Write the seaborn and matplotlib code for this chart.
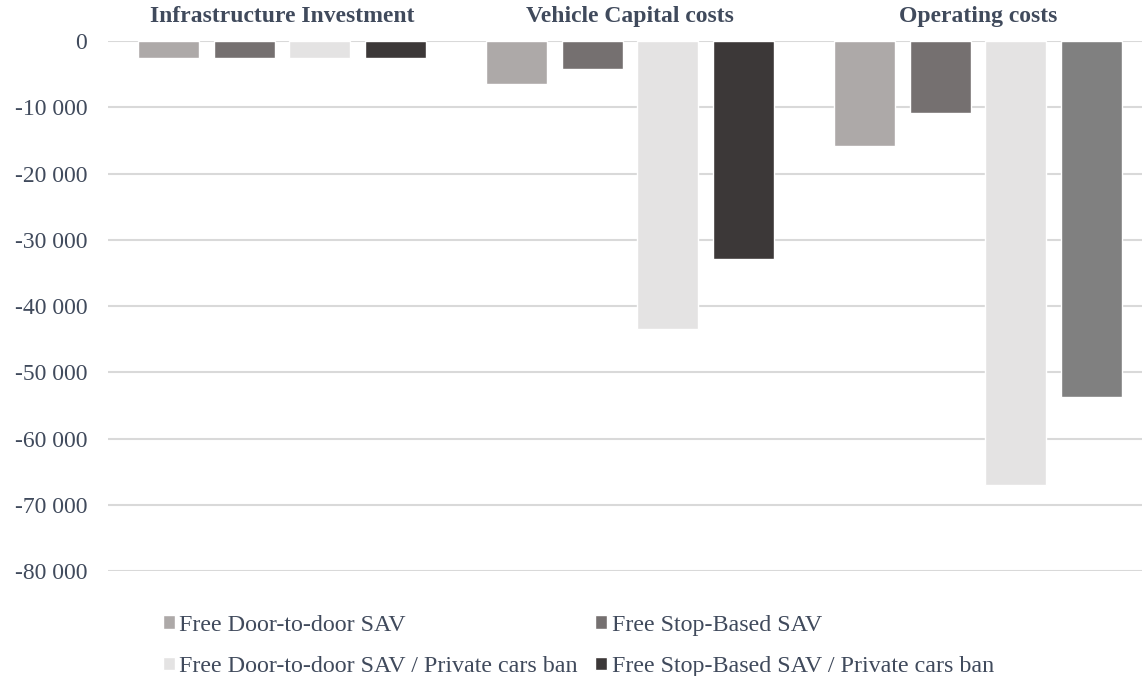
import pandas as pd
import numpy as np
import matplotlib
matplotlib.use("Agg")
import matplotlib.pyplot as plt
import seaborn as sns
from matplotlib.ticker import FuncFormatter

# data
categories = ["Infrastructure Investment", "Vehicle Capital costs", "Operating costs"]
series = [
    "Free Door-to-door SAV",
    "Free Stop-Based SAV",
    "Free Door-to-door SAV / Private cars ban",
    "Free Stop-Based SAV / Private cars ban",
]
door_to_door = [-2600, -6500, -15900]
stop_based = [-2600, -4200, -10800]
door_to_door_ban = [-2600, -43500, -67000]
stop_based_ban = [-2600, -32900, -53700]

colors = ["#ADA9A8", "#757070", "#E4E3E3", "#3C3838"]
odd_color = "#808080"  # last bar of "Operating costs" is drawn in a lighter grey
text_color = "#404A5C"

df = pd.DataFrame({
    "category": categories * 4,
    "series": np.repeat(series, 3),
    "value": door_to_door + stop_based + door_to_door_ban + stop_based_ban,
})

sns.set_style("white")
plt.rcParams["font.family"] = ["Liberation Serif", "DejaVu Serif"]

fig = plt.figure(figsize=(11.42, 6.76), dpi=100)
ax = fig.add_axes([108 / 1142, 105 / 676, 1044 / 1142, 530 / 676])

sns.barplot(data=df, x="category", y="value", hue="series", order=categories,
            hue_order=series, palette=colors, width=0.868, gap=0.19,
            saturation=1, ax=ax, legend=True)

# recolour the odd bar (series 4, category 3)
bars = [p for p in ax.patches if p.get_height() != 0]
bars = sorted(bars, key=lambda p: p.get_x())
bars[-1].set_facecolor(odd_color)

ax.set_ylim(-80000, 0)
ax.set_yticks(np.arange(-80000, 1, 10000))
ax.yaxis.set_major_formatter(FuncFormatter(lambda v, _: f"{int(v):,}".replace(",", " ")))
ax.grid(axis="y", color="#D9D9D9", linewidth=1.5)
ax.set_axisbelow(True)
for s in ax.spines.values():
    s.set_visible(False)

ax.xaxis.tick_top()
ax.tick_params(axis="x", length=0, pad=10, labelsize=17, labelcolor=text_color)
for lbl in ax.get_xticklabels():
    lbl.set_fontweight("bold")
ax.tick_params(axis="y", length=0, pad=15, labelsize=17, labelcolor=text_color)
ax.set_xlabel("")
ax.set_ylabel("")

handles, labels = ax.get_legend_handles_labels()
ax.get_legend().remove()
order = [0, 2, 1, 3]
fig.legend([handles[i] for i in order], [labels[i] for i in order],
           ncol=2, loc="upper left", bbox_to_anchor=(153 / 1142, 1 - 605 / 676),
           frameon=False, fontsize=17.3, labelcolor=text_color,
           handlelength=0.5, handleheight=0.5, handletextpad=0.2,
           columnspacing=0.72, labelspacing=0.85, borderaxespad=0)

fig.savefig("out.png", dpi=100)
